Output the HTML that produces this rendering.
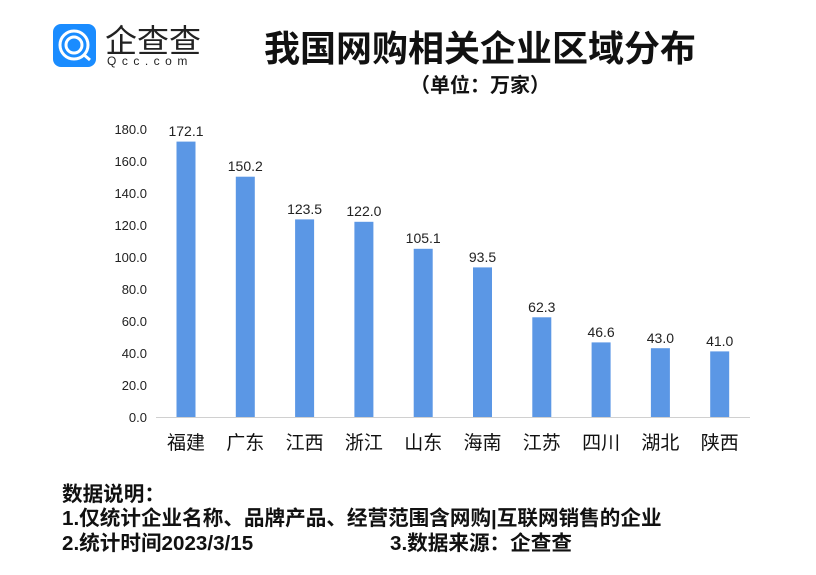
<!DOCTYPE html>
<html><head><meta charset="utf-8"><style>
body{margin:0;width:816px;height:570px;background:#fff;overflow:hidden;font-family:"Liberation Sans","Noto Sans CJK SC",sans-serif;}
</style></head><body>
<svg width="816" height="570" xmlns="http://www.w3.org/2000/svg" font-family="Liberation Sans, Noto Sans CJK SC, sans-serif">
<rect x="53" y="24" width="43" height="43" rx="8" fill="#1a8cff"/>
<circle cx="74" cy="45" r="14" fill="none" stroke="#fff" stroke-width="3"/>
<circle cx="74" cy="45" r="8" fill="none" stroke="#fff" stroke-width="3"/>
<line x1="83" y1="54" x2="90" y2="60" stroke="#fff" stroke-width="3"/>
<text x="105" y="52" font-size="32" fill="#222" font-family="Noto Sans CJK SC, sans-serif">企查查</text>
<text x="107" y="65" font-size="12" fill="#222" letter-spacing="5.5">Qcc.com</text>
<text x="480" y="61" font-size="36" font-weight="bold" text-anchor="middle" fill="#111" font-family="Noto Sans CJK SC, sans-serif">我国网购相关企业区域分布</text>
<text x="480" y="92" font-size="20" font-weight="bold" text-anchor="middle" fill="#111" font-family="Noto Sans CJK SC, sans-serif">（单位：万家）</text>
<g font-size="13" fill="#222" text-anchor="end">
<text x="147" y="134">180.0</text><text x="147" y="166">160.0</text><text x="147" y="198">140.0</text><text x="147" y="230">120.0</text><text x="147" y="262">100.0</text><text x="147" y="294">80.0</text><text x="147" y="326">60.0</text><text x="147" y="358">40.0</text><text x="147" y="390">20.0</text><text x="147" y="422">0.0</text>
</g>
<line x1="156" y1="417.5" x2="750" y2="417.5" stroke="#d0d0d0"/>
<g fill="#5b97e5">
<rect x="176.5" y="141.6" width="19" height="275.4"/>
<rect x="235.8" y="176.7" width="19" height="240.3"/>
<rect x="295.1" y="219.4" width="19" height="197.6"/>
<rect x="354.4" y="221.8" width="19" height="195.2"/>
<rect x="413.7" y="248.8" width="19" height="168.2"/>
<rect x="473" y="267.4" width="19" height="149.6"/>
<rect x="532.3" y="317.3" width="19" height="99.7"/>
<rect x="591.6" y="342.4" width="19" height="74.6"/>
<rect x="650.9" y="348.2" width="19" height="68.8"/>
<rect x="710.2" y="351.4" width="19" height="65.6"/>
</g>
<g font-size="14" fill="#222" text-anchor="middle">
<text x="186" y="136">172.1</text><text x="245.3" y="171">150.2</text><text x="304.6" y="214">123.5</text><text x="363.9" y="216">122.0</text><text x="423.2" y="243">105.1</text><text x="482.5" y="262">93.5</text><text x="541.8" y="312">62.3</text><text x="601.1" y="337">46.6</text><text x="660.4" y="343">43.0</text><text x="719.7" y="346">41.0</text>
</g>
<g font-size="19" fill="#111" text-anchor="middle" font-family="Noto Sans CJK SC, sans-serif">
<text x="186" y="449">福建</text><text x="245.3" y="449">广东</text><text x="304.6" y="449">江西</text><text x="363.9" y="449">浙江</text><text x="423.2" y="449">山东</text><text x="482.5" y="449">海南</text><text x="541.8" y="449">江苏</text><text x="601.1" y="449">四川</text><text x="660.4" y="449">湖北</text><text x="719.7" y="449">陕西</text>
</g>
<g font-size="20.6" font-weight="bold" fill="#111" font-family="Liberation Sans, Noto Sans CJK SC, sans-serif">
<text x="62" y="501">数据说明：</text>
<text x="62" y="525">1.仅统计企业名称、品牌产品、经营范围含网购|互联网销售的企业</text>
<text x="62" y="550">2.统计时间2023/3/15</text>
<text x="390" y="550">3.数据来源：企查查</text>
</g>
</svg>
</body></html>
